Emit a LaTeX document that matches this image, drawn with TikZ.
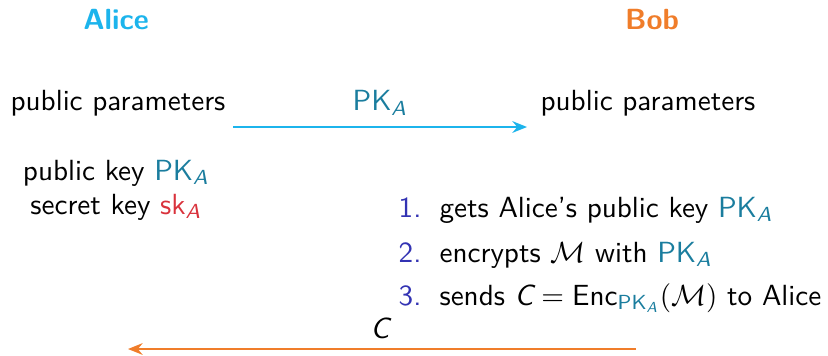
\documentclass[tikz,border=0pt]{standalone}
\usepackage{amsmath}
\renewcommand\familydefault{\sfdefault}
\usetikzlibrary{arrows.meta}
\definecolor{alicec}{RGB}{28,180,236}
\definecolor{bobc}{RGB}{240,125,42}
\definecolor{pkc}{RGB}{26,125,158}
\definecolor{skc}{RGB}{217,50,60}
\definecolor{numc}{RGB}{51,51,179}
\newcommand\myPK{\textcolor{pkc}{\text{PK}_{\textit{A}}}}
\newcommand\mySK{\textcolor{skc}{\text{sk}_{\textit{A}}}}
\begin{document}
\begin{tikzpicture}[x=0.343pt,y=-0.343pt,
  txt/.style={inner sep=0pt,font=\fontsize{10}{12}\selectfont},
  party/.style={txt,font=\fontsize{10}{12}\selectfont\bfseries,anchor=base},
  num/.style={txt,anchor=base east,text=numc},
  item/.style={txt,anchor=base west},
  msg/.style={line width=0.75pt,-{Stealth[length=5pt,width=4pt]}}]
\useasboundingbox (0,0) rectangle (828,355);
\node[party,text=alicec] (alice) at (116,30) {Alice};
\node[party,text=bobc] (bob) at (652,30) {Bob};
\node[txt,anchor=base west] (ppA) at (10,111) {public parameters};
\node[txt,anchor=base west] (ppB) at (540,111) {public parameters};
\node[txt,anchor=base] (pklabel) at (380,111) {$\myPK$};
\coordinate (t1) at (233,127);
\coordinate (t2) at (527,127);
\draw[msg,draw=alicec] (t1) -- (t2);
\node[txt,anchor=base] (pubkey) at (116,180) {public key $\myPK$};
\node[txt,anchor=base] (seckey) at (116,214) {secret key $\mySK$};
\node[num] (n1) at (422,217) {1.};
\node[item] (i1) at (439,217) {gets Alice's public key $\myPK$};
\node[num] (n2) at (422,262) {2.};
\node[item] (i2) at (439,262) {encrypts $\mathcal{M}$ with $\myPK$};
\node[num] (n3) at (422,305) {3.};
\node[item] (i3) at (439,305) {sends $\textit{C} = \text{Enc}_{\myPK}(\mathcal{M})$ to Alice};
\node[txt,anchor=base] (clabel) at (380,338) {$\textit{C}$};
\coordinate (b1) at (636,349);
\coordinate (b2) at (128,349);
\draw[msg,draw=bobc] (b1) -- (b2);
\end{tikzpicture}
\end{document}
